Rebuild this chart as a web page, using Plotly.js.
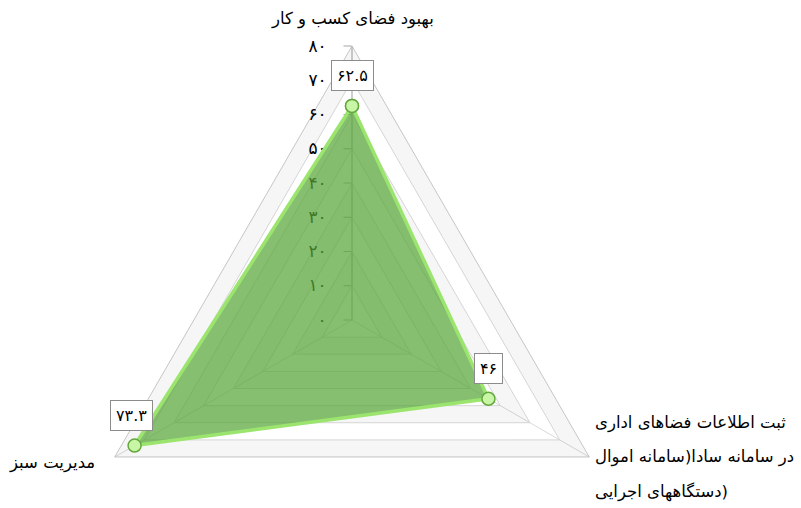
<!DOCTYPE html>
<html><head><meta charset="utf-8">
<script src="https://cdn.plot.ly/plotly-3.0.1.min.js"></script>
<style>
html,body{margin:0;padding:0;background:#fff;overflow:hidden}
#wrap{width:801px;height:508px;overflow:hidden;position:relative}
</style>
</head><body><div id="wrap"><div id="chart"></div></div>
<script>
// ---- data ----
const categories = [
  'بهبود فضای کسب و کار',
  'ثبت اطلاعات فضاهای اداری در سامانه سادا(سامانه اموال دستگاههای اجرایی)',
  'مدیریت سبز'
];
const categoryLines = [
  ['بهبود فضای کسب و کار'],
  ['ثبت اطلاعات فضاهای اداری', 'در سامانه سادا(سامانه اموال', 'دستگاههای اجرایی)'],
  ['مدیریت سبز']
];
const values = [62.5, 46, 73.3];
const tickValues = [0, 10, 20, 30, 40, 50, 60, 70, 80];
const bandPairs = [[70, 80], [50, 60], [30, 40], [10, 20]];
const radialMax = 80;

// ---- helpers ----
const faDigits = '۰۱۲۳۴۵۶۷۸۹';
const toFa = v => String(v).replace(/[0-9]/g, d => faDigits[d]);
const tickText = tickValues.map(v => toFa(v) + '\u00a0\u00a0');

const W = 801, H = 594, MT = 46;
const domX = [78 / W, 626 / W];
const plotH = H - MT;
const R = Math.min((domX[1] - domX[0]) * W, plotH) / 2;
const CX = (domX[0] + domX[1]) / 2 * W;
const CY = MT + plotH / 2;
function toPaper(r, i) {
  const a = (90 - i * 360 / categories.length) * Math.PI / 180;
  const rr = r / radialMax * R;
  const px = CX + rr * Math.cos(a), py = CY - rr * Math.sin(a);
  return {x: px / W, y: 1 - (py - MT) / plotH};
}

const ARFONT = 'DejaVu Sans, Noto Sans, sans-serif';
const closeArr = a => a.concat([a[0]]);

const traces = [];
bandPairs.forEach(([lo, hi]) => {
  const n = categories.length;
  const thOuter = closeArr(categories.slice());
  const thInner = closeArr(categories.slice().reverse());
  traces.push({
    type: 'scatterpolar', mode: 'lines',
    r: new Array(n + 1).fill(hi).concat(new Array(n + 1).fill(lo)),
    theta: thOuter.concat(thInner),
    fill: 'toself', fillcolor: 'rgba(0,0,0,0.035)',
    line: {width: 0, color: 'rgba(0,0,0,0)'},
    hoverinfo: 'skip', showlegend: false
  });
});
traces.push({
  type: 'scatterpolar', mode: 'lines+markers',
  r: closeArr(values), theta: closeArr(categories),
  fill: 'toself', fillcolor: 'rgba(88,166,56,0.72)',
  line: {color: '#9be56f', width: 3.5},
  marker: {size: 13, color: '#c9f5a6', line: {color: '#62a83c', width: 1.5}},
  showlegend: false, hoverinfo: 'skip'
});

const annotations = [];
// category labels
const catSpec = [
  {xanchor: 'center', xshift: 0, yshifts: [27]},
  {xanchor: 'left', xshift: 4, yshifts: [34, 0, -35]},
  {xanchor: 'right', xshift: -18, yshifts: [-6]}
];
categoryLines.forEach((lines, i) => {
  const p = toPaper(radialMax, i);
  lines.forEach((t, j) => {
    annotations.push({
      xref: 'paper', yref: 'paper', x: p.x, y: p.y, text: t, showarrow: false,
      xanchor: catSpec[i].xanchor, yanchor: 'middle', xshift: catSpec[i].xshift, yshift: catSpec[i].yshifts[j],
      font: {family: ARFONT, size: 16.5, color: '#000'}
    });
  });
});
// data labels
const lblShift = [0, 0, -3];
values.forEach((v, i) => {
  const p = toPaper(v, i);
  annotations.push({
    xref: 'paper', yref: 'paper', x: p.x, y: p.y, text: toFa(v), showarrow: false,
    xanchor: 'center', yanchor: 'middle', yshift: 30, xshift: lblShift[i],
    bgcolor: '#fff', bordercolor: '#8c8c8c', borderwidth: 1, borderpad: 5,
    font: {family: ARFONT, size: 16, color: '#000'}
  });
});

const layout = {
  width: W, height: H,
  margin: {l: 0, r: 0, t: MT, b: 0, pad: 0},
  paper_bgcolor: '#fff', plot_bgcolor: '#fff',
  showlegend: false,
  polar: {
    domain: {x: domX, y: [0, 1]},
    bgcolor: '#fff',
    gridshape: 'linear',
    radialaxis: {
      range: [0, radialMax], angle: 90, side: 'counterclockwise',
      tickvals: tickValues, ticktext: tickText,
      ticks: 'outside', ticklen: 8, tickcolor: '#a6a6a6', tickwidth: 1,
      showline: true, linecolor: '#b0b0b0', linewidth: 1,
      gridcolor: '#d9d9d9', gridwidth: 1,
      tickfont: {family: ARFONT, size: 17, color: '#000'},
      tickangle: 90, layer: 'below traces'
    },
    angularaxis: {
      type: 'category', categoryarray: categories, categoryorder: 'array',
      rotation: 90, direction: 'clockwise',
      showticklabels: false, ticks: '',
      showline: true, linecolor: '#c8c8c8', linewidth: 1,
      showgrid: true, gridcolor: '#d9d9d9', gridwidth: 1,
      layer: 'below traces'
    }
  },
  annotations: annotations
};

Plotly.newPlot('chart', traces, layout, {staticPlot: true, displayModeBar: false});
</script>
</body></html>
